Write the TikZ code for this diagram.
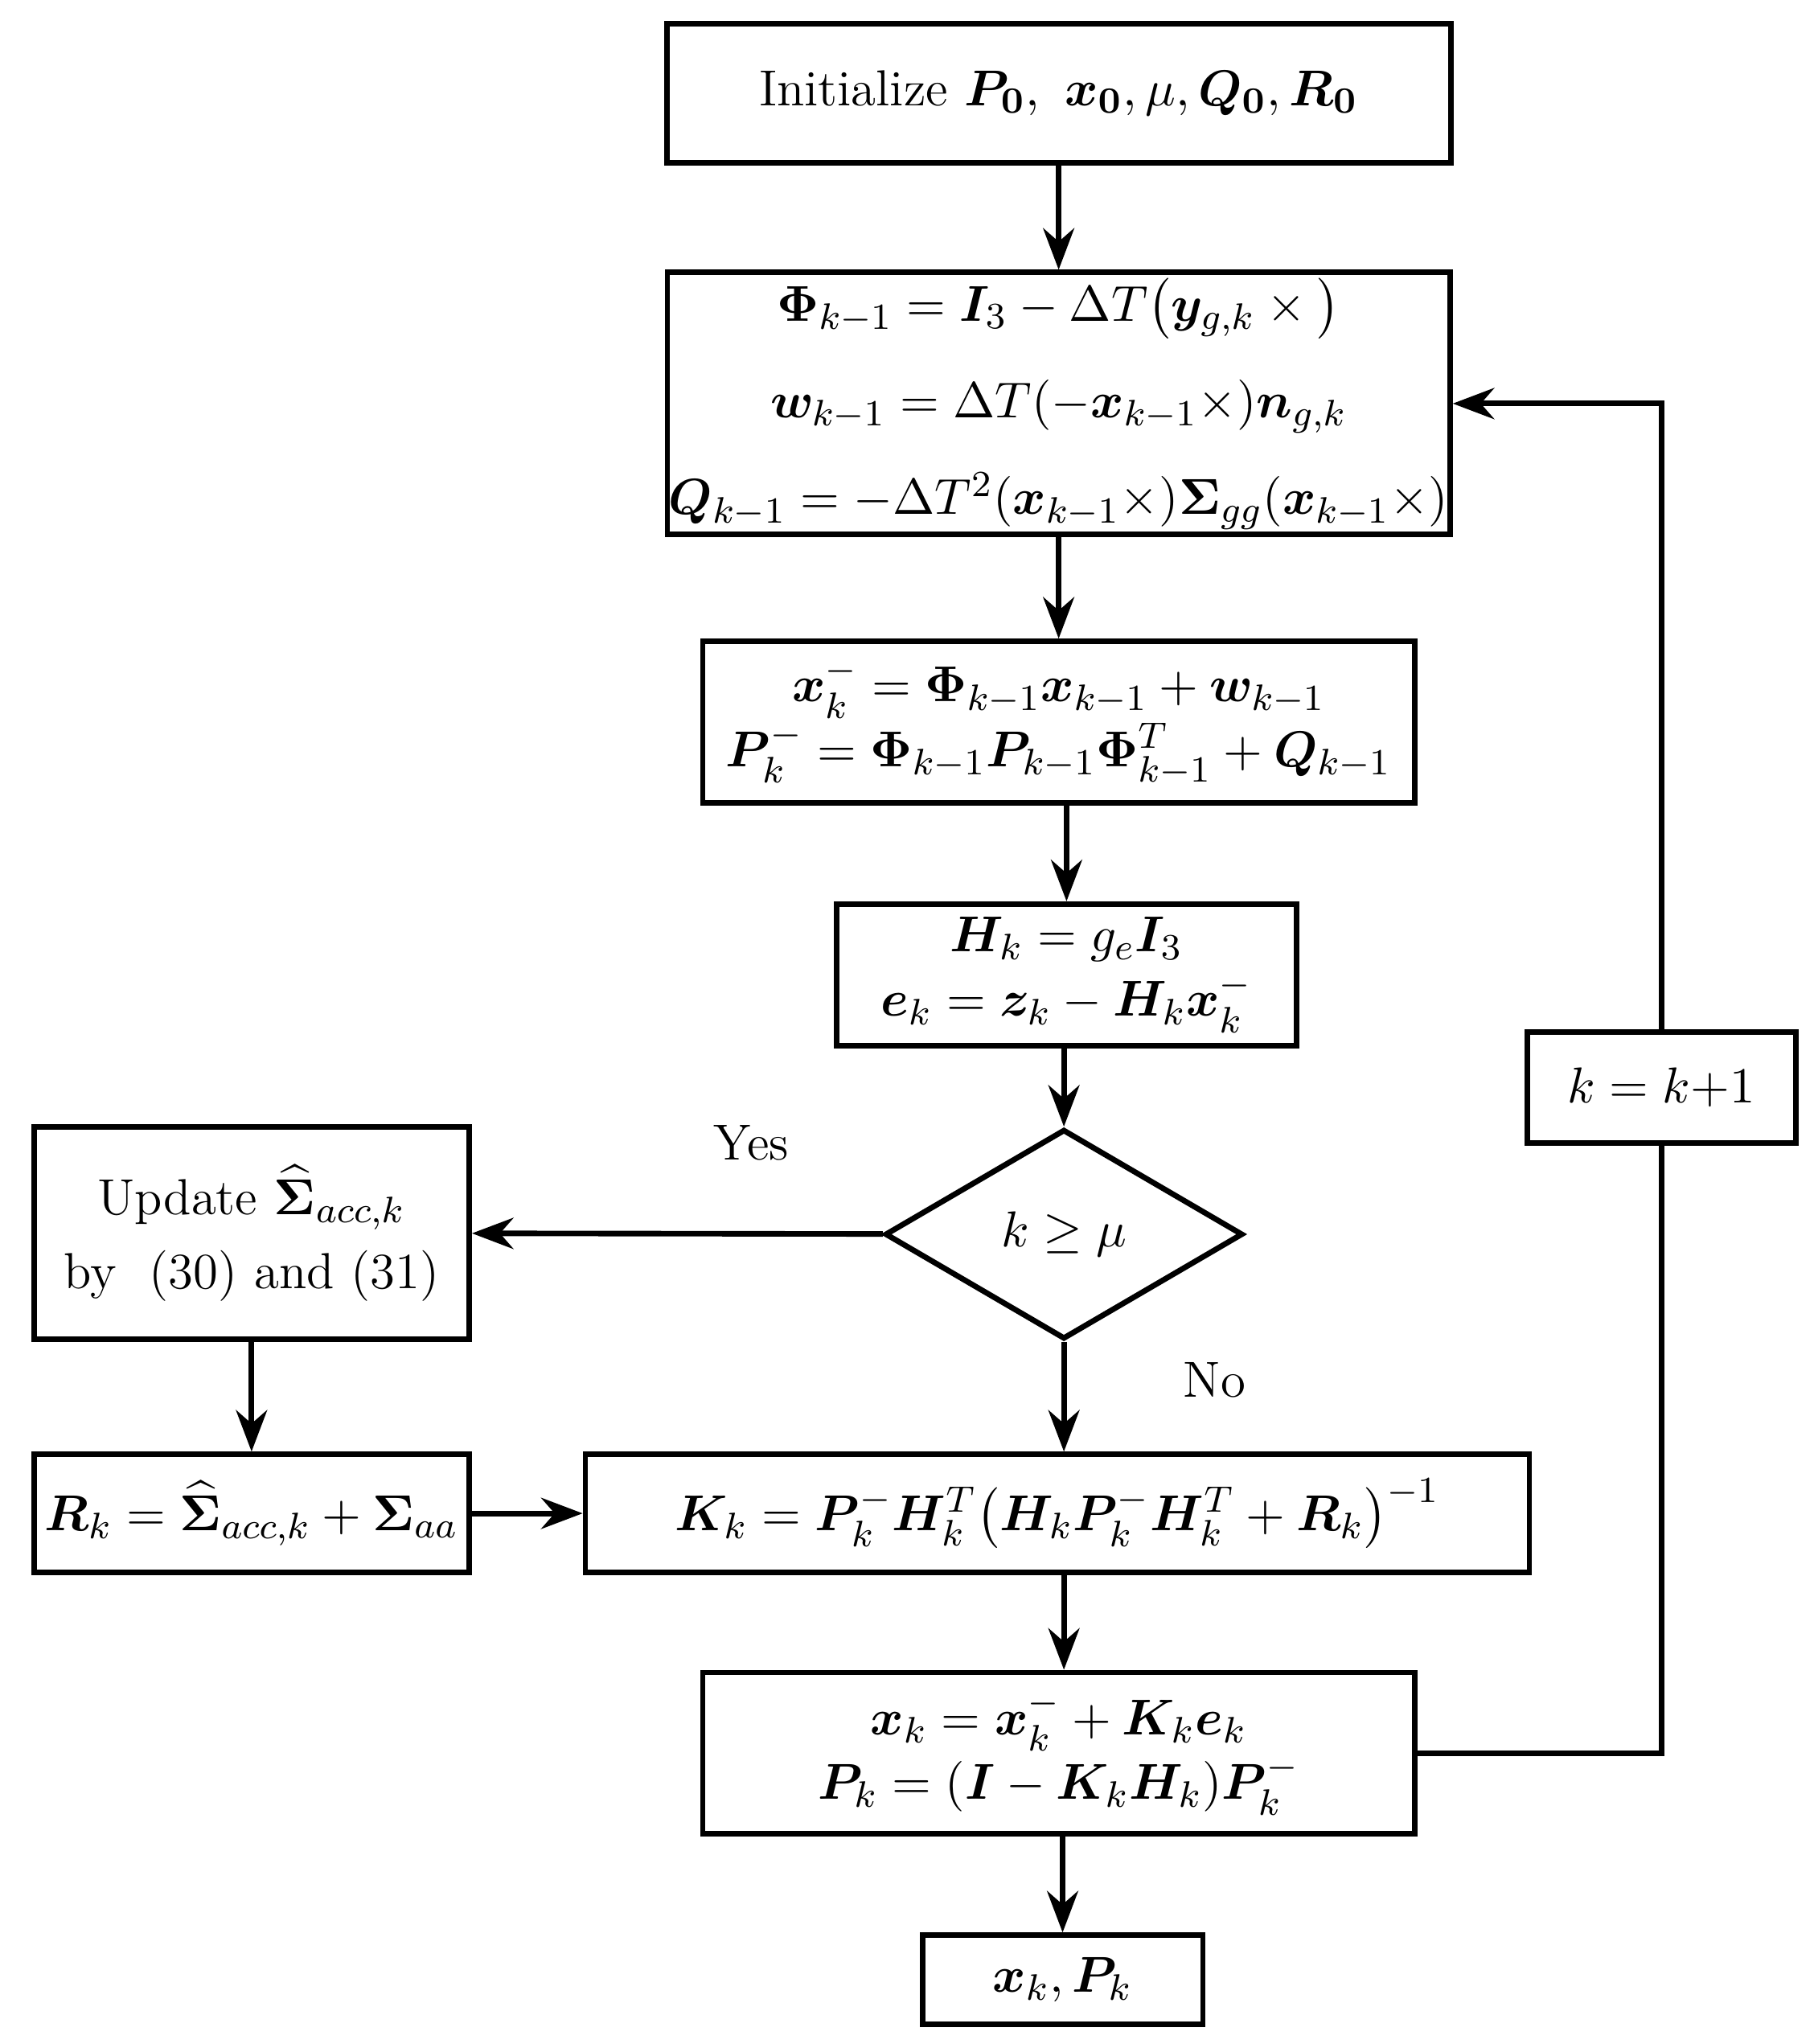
\documentclass[tikz,border=0pt]{standalone}
\usepackage{amsmath,amssymb,bm}
\usetikzlibrary{shapes.geometric,arrows.meta}
\begin{document}
\begin{tikzpicture}[x=0.01cm, y=-0.01cm, thick, line width=1.2pt, >={Stealth[length=9pt]},
    box/.style = {draw, rectangle, align=center, font=\fontsize{11}{14}\selectfont, inner sep=0pt},
    dec/.style = {draw, diamond, aspect=1.7, inner sep=0pt, font=\fontsize{11}{14}\selectfont},
    lbl/.style = {font=\fontsize{11}{14}\selectfont}]
    \useasboundingbox (0,0) rectangle (1384,1560);
    \node[box, minimum width=5.98cm, minimum height=1.06cm] (init) at (808,71) {Initialize $\bm{P_0},\ \bm{x_0}, \mu, \bm{Q_0}, \bm{R_0}$};
    \node[box, minimum width=5.97cm, minimum height=2.0cm] (phi) at (808,308) {%
        $\bm{\Phi}_{k-1}=\bm{I}_3-\Delta T\big(\bm{y}_{g,k}\times\big)$\\[7pt]
        $\bm{w}_{k-1}=\Delta T(-\bm{x}_{k-1}\times)\bm{n}_{g,k}$\\[7pt]
        $\bm{Q}_{k-1}=-\Delta T^2(\bm{x}_{k-1}\times)\bm{\Sigma}_{gg}(\bm{x}_{k-1}\times)$};
    \node[box, minimum width=5.43cm, minimum height=1.23cm] (pred) at (808,551) {%
        $\bm{x}_k^-=\bm{\Phi}_{k-1}\bm{x}_{k-1}+\bm{w}_{k-1}$\\
        $\bm{P}_k^-=\bm{\Phi}_{k-1}\bm{P}_{k-1}\bm{\Phi}_{k-1}^T+\bm{Q}_{k-1}$};
    \node[box, minimum width=3.51cm, minimum height=1.08cm] (meas) at (814,744) {%
        $\bm{H}_k=g_e\bm{I}_3$\\ $\bm{e}_k=\bm{z}_k-\bm{H}_k\bm{x}_k^-$};
    \node[dec, minimum width=2.73cm, minimum height=1.6cm] (test) at (812,942) {$k\geq\mu$};
    \node[box, minimum width=3.32cm, minimum height=1.62cm] (upd) at (192,941) {%
        Update $\widehat{\bm{\Sigma}}_{acc,k}$\\[2pt] by\ \ (30) and (31)};
    \node[box, minimum width=3.32cm, minimum height=0.9cm] (rk) at (192,1155) {%
        $\bm{R}_k=\widehat{\bm{\Sigma}}_{acc,k}+\bm{\Sigma}_{aa}$};
    \node[box, minimum width=7.2cm, minimum height=0.9cm] (gain) at (807,1155) {%
        $\bm{K}_k=\bm{P}_k^-\bm{H}_k^T\big(\bm{H}_k\bm{P}_k^-\bm{H}_k^T+\bm{R}_k\big)^{-1}$};
    \node[box, minimum width=5.43cm, minimum height=1.23cm] (corr) at (808,1338) {%
        $\bm{x}_k=\bm{x}_k^-+\bm{K}_k\bm{e}_k$\\ $\bm{P}_k=(\bm{I}-\bm{K}_k\bm{H}_k)\bm{P}_k^-$};
    \node[box, minimum width=2.14cm, minimum height=0.68cm] (out) at (811,1511) {$\bm{x}_k, \bm{P}_k$};
    \node[box, minimum width=2.05cm, minimum height=0.85cm] (step) at (1268,830) {$k=k{+}1$};
    \coordinate (c1) at (1268,1338);
    \coordinate (c2) at (1268,308);

    \draw[->] (init) -- (phi);
    \draw[->] (phi) -- (pred);
    \draw[->] (pred.south -| meas) -- (meas);
    \draw[->] (meas.south -| test) -- (test);
    \draw[->] (test) -- node[lbl, pos=0.32, above=12pt] {Yes} (upd);
    \draw[->] (test) -- node[lbl, pos=0.35, right=22pt] {No} (test |- gain.north);
    \draw[->] (upd) -- (rk);
    \draw[->] (rk) -- (gain);
    \draw[->] (gain.south -| test) -- (corr.north -| test);
    \draw[->] (corr.south -| out) -- (out);
    \draw (corr.east) -- (c1) -- (step);
    \draw[->] (step) -- (c2) -- (phi.east);
\end{tikzpicture}
\end{document}
